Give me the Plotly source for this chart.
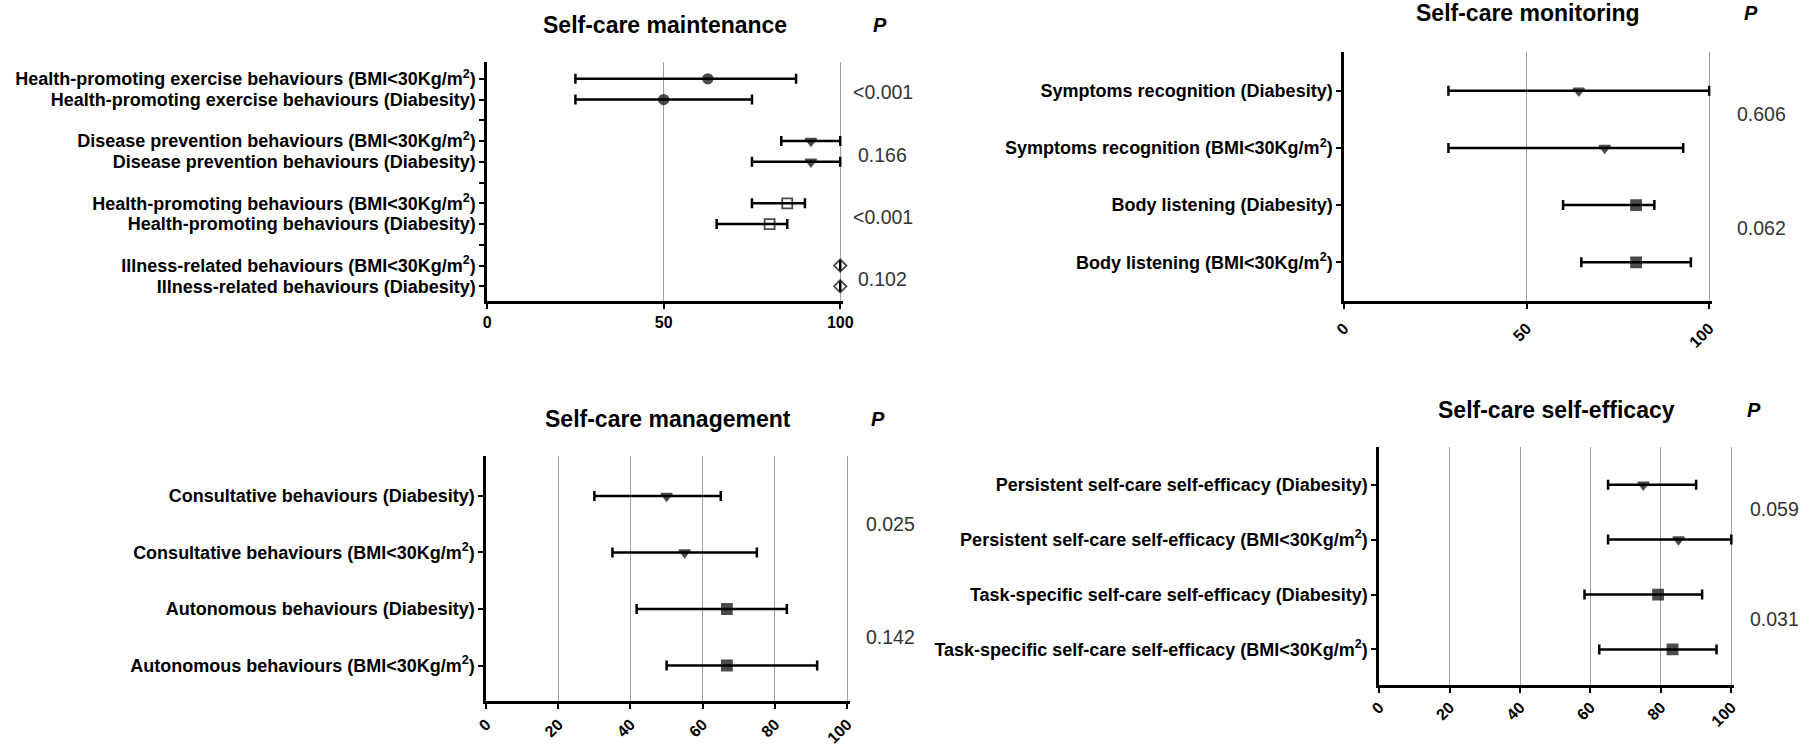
import plotly.graph_objects as go

# ---------------- DATA ----------------
# Panel 1: Self-care maintenance (groups of two rows)
m_labels = [
    "Health-promoting exercise behaviours (BMI<30Kg/m<sup>2</sup>)",
    "Health-promoting exercise behaviours (Diabesity)",
    "Disease prevention behaviours (BMI<30Kg/m<sup>2</sup>)",
    "Disease prevention behaviours (Diabesity)",
    "Health-promoting behaviours (BMI<30Kg/m<sup>2</sup>)",
    "Health-promoting behaviours (Diabesity)",
    "Illness-related behaviours (BMI<30Kg/m<sup>2</sup>)",
    "Illness-related behaviours (Diabesity)",
]
m_median = [62.5, 50, 91.7, 91.7, 85, 80, 100, 100]
m_low = [25, 25, 83.3, 75, 75, 65, 100, 100]
m_high = [87.5, 75, 100, 100, 90, 85, 100, 100]
m_symbols = ["circle", "circle", "triangle-down", "triangle-down",
             "square-open", "square-open", "diamond-open", "diamond-open"]
m_p = ["<0.001", "0.166", "<0.001", "0.102"]

# Panel 2: Self-care monitoring
mo_labels = [
    "Symptoms recognition (Diabesity)",
    "Symptoms recognition (BMI<30Kg/m<sup>2</sup>)",
    "Body listening (Diabesity)",
    "Body listening (BMI<30Kg/m<sup>2</sup>)",
]
mo_median = [64.3, 71.4, 80, 80]
mo_low = [28.6, 28.6, 60, 65]
mo_high = [100, 92.9, 85, 95]
mo_symbols = ["triangle-down", "triangle-down", "square", "square"]
mo_p = ["0.606", "0.062"]

# Panel 3: Self-care management
mg_labels = [
    "Consultative behaviours (Diabesity)",
    "Consultative behaviours (BMI<30Kg/m<sup>2</sup>)",
    "Autonomous behaviours (Diabesity)",
    "Autonomous behaviours (BMI<30Kg/m<sup>2</sup>)",
]
mg_median = [50, 55, 66.7, 66.7]
mg_low = [30, 35, 41.7, 50]
mg_high = [65, 75, 83.3, 91.7]
mg_symbols = ["triangle-down", "triangle-down", "square", "square"]
mg_p = ["0.025", "0.142"]

# Panel 4: Self-care self-efficacy
se_labels = [
    "Persistent self-care self-efficacy (Diabesity)",
    "Persistent self-care self-efficacy (BMI<30Kg/m<sup>2</sup>)",
    "Task-specific self-care self-efficacy (Diabesity)",
    "Task-specific self-care self-efficacy (BMI<30Kg/m<sup>2</sup>)",
]
se_median = [75, 85, 79.2, 83.3]
se_low = [65, 65, 58.3, 62.5]
se_high = [90, 100, 91.7, 95.8]
se_symbols = ["triangle-down", "triangle-down", "square", "square"]
se_p = ["0.059", "0.031"]

titles = ["Self-care maintenance", "Self-care monitoring",
          "Self-care management", "Self-care self-efficacy"]
ticks_50 = [0, 50, 100]
ticks_20 = [0, 20, 40, 60, 80, 100]

# ---------------- STYLE ----------------
FONT = "Liberation Sans, Arial, sans-serif"
LABEL_SIZE = 18
TICK_SIZE = 16
P_SIZE = 19.5
TITLE_SIZE = 23

fig = go.Figure()

panels = [
    dict(labels=m_labels, med=m_median, lo=m_low, hi=m_high, sym=m_symbols, p=m_p,
         gap=1, xticks=ticks_50, angle=0, stand=0, poff=0.65,
         xdom=[0.2669, 0.4662], ydom=[0.5957, 0.9170], yr=[10.72, -0.82],
         ty=0.9665, px=1.112, phx=1.106),
    dict(labels=mo_labels, med=mo_median, lo=mo_low, hi=mo_high, sym=mo_symbols, p=mo_p,
         gap=0, xticks=ticks_50, angle=-45, stand=4, poff=0.4,
         xdom=[0.7472, 0.9533], ydom=[0.5957, 0.9304], yr=[3.68, -0.68],
         ty=0.9826, px=1.135, phx=1.106),
    dict(labels=mg_labels, med=mg_median, lo=mg_low, hi=mg_high, sym=mg_symbols, p=mg_p,
         gap=0, xticks=ticks_20, angle=-45, stand=0, poff=0.5,
         xdom=[0.2663, 0.4701], ydom=[0.0589, 0.3882], yr=[3.63, -0.71],
         ty=0.4378, px=1.111, phx=1.079),
    dict(labels=se_labels, med=se_median, lo=se_low, hi=se_high, sym=se_symbols, p=se_p,
         gap=0, xticks=ticks_20, angle=-45, stand=-1, poff=0.45,
         xdom=[0.7669, 0.9657], ydom=[0.0803, 0.4003], yr=[3.65, -0.69],
         ty=0.4498, px=1.114, phx=1.058),
]

annotations = []
for i, pn in enumerate(panels):
    k = "" if i == 0 else str(i + 1)
    xa, ya = "x" + k, "y" + k
    n = len(pn["labels"])
    step = 2 + pn["gap"]
    pos = [(j // 2) * step + (j % 2) for j in range(n)]
    seps = [g * step - 1 for g in range(1, n // 2)] if pn["gap"] else []
    plus = [h - m for h, m in zip(pn["hi"], pn["med"])]
    minus = [m - l for m, l in zip(pn["med"], pn["lo"])]
    sizes = [10 if s.startswith("square") else 9.5 for s in pn["sym"]]
    fig.add_trace(go.Scatter(
        x=pn["med"], y=pos, mode="markers", xaxis=xa, yaxis=ya,
        cliponaxis=False, showlegend=False,
        marker=dict(symbol=pn["sym"], size=sizes, color="black",
                    line=dict(color="black", width=1.8)),
        error_x=dict(type="data", array=plus, arrayminus=minus, symmetric=False,
                     color="black", thickness=2.5, width=5),
    ))
    tickvals = pos + seps
    ticktext = pn["labels"] + [""] * len(seps)
    fig.layout["xaxis" + k] = dict(
        domain=pn["xdom"], anchor=ya, range=[0, 100.7], tickvals=pn["xticks"],
        tickangle=pn["angle"], showgrid=True, gridcolor="#a0a0a0", gridwidth=1,
        zeroline=False, showline=True, linecolor="black", linewidth=2.5,
        ticks="outside", ticklen=5, tickwidth=2, tickcolor="black",
        ticklabelstandoff=pn["stand"],
        tickfont=dict(family=FONT, size=TICK_SIZE, color="black", weight="bold"),
        fixedrange=True,
    )
    fig.layout["yaxis" + k] = dict(
        domain=pn["ydom"], anchor=xa, range=pn["yr"], tickvals=tickvals,
        ticktext=ticktext, showgrid=False, zeroline=False, showline=True,
        linecolor="black", linewidth=2.5, ticks="outside", ticklen=5, tickwidth=2,
        tickcolor="black",
        tickfont=dict(family=FONT, size=LABEL_SIZE, color="black", weight="bold"),
        fixedrange=True,
    )
    # title
    annotations.append(dict(
        text="<b>" + titles[i] + "</b>", xref=xa + " domain", yref="paper",
        x=0.5, y=pn["ty"], xanchor="center", yanchor="middle", showarrow=False,
        font=dict(family=FONT, size=TITLE_SIZE, color="black"),
    ))
    # P header
    annotations.append(dict(
        text="<b><i>P</i></b>", xref=xa + " domain", yref="paper",
        x=pn["phx"], y=pn["ty"], xanchor="center", yanchor="middle", showarrow=False,
        font=dict(family=FONT, size=20, color="black"),
    ))
    # p-values beside each pair
    for g, pv in enumerate(pn["p"]):
        annotations.append(dict(
            text=pv, xref=xa + " domain", yref=ya,
            x=pn["px"], y=g * step + pn["poff"], xanchor="center", yanchor="middle",
            showarrow=False, font=dict(family=FONT, size=P_SIZE, color="#333333"),
        ))

fig.update_layout(
    width=1806, height=747, margin=dict(l=0, r=0, t=0, b=0),
    paper_bgcolor="white", plot_bgcolor="white",
    annotations=annotations, showlegend=False,
)

fig.write_html(
    "out.html",
    config={"displayModeBar": False},
    post_script="document.body.style.margin='0';document.body.style.overflow='hidden';",
)
